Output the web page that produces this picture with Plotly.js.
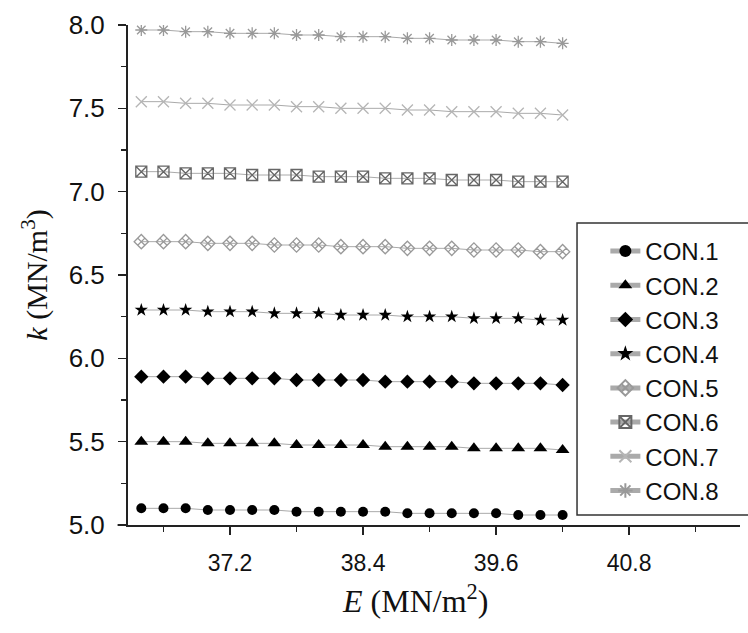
<!DOCTYPE html>
<html>
<head>
<meta charset="utf-8">
<script src="https://cdn.plot.ly/plotly-3.0.1.min.js"></script>
<style>html,body{margin:0;padding:0;background:#fff;}#chart{width:748px;height:633px;}</style>
</head>
<body>
<div id="chart"></div>
<script>
var E = [36.4, 36.6, 36.8, 37.0, 37.2, 37.4, 37.6, 37.8, 38.0, 38.2, 38.4, 38.6, 38.8, 39.0, 39.2, 39.4, 39.6, 39.8, 40.0, 40.2];

var seriesNames = ["CON.1", "CON.2", "CON.3", "CON.4", "CON.5", "CON.6", "CON.7", "CON.8"];

var con1 = [5.10, 5.10, 5.10, 5.09, 5.09, 5.09, 5.09, 5.08, 5.08, 5.08, 5.08, 5.08, 5.07, 5.07, 5.07, 5.07, 5.07, 5.06, 5.06, 5.06];
var con2 = [5.50, 5.50, 5.50, 5.49, 5.49, 5.49, 5.49, 5.48, 5.48, 5.48, 5.48, 5.47, 5.47, 5.47, 5.47, 5.46, 5.46, 5.46, 5.46, 5.45];
var con3 = [5.89, 5.89, 5.89, 5.88, 5.88, 5.88, 5.88, 5.87, 5.87, 5.87, 5.87, 5.86, 5.86, 5.86, 5.86, 5.85, 5.85, 5.85, 5.85, 5.84];
var con4 = [6.29, 6.29, 6.29, 6.28, 6.28, 6.28, 6.27, 6.27, 6.27, 6.26, 6.26, 6.26, 6.25, 6.25, 6.25, 6.24, 6.24, 6.24, 6.23, 6.23];
var con5 = [6.70, 6.70, 6.70, 6.69, 6.69, 6.69, 6.68, 6.68, 6.68, 6.67, 6.67, 6.67, 6.66, 6.66, 6.66, 6.65, 6.65, 6.65, 6.64, 6.64];
var con6 = [7.12, 7.12, 7.11, 7.11, 7.11, 7.10, 7.10, 7.10, 7.09, 7.09, 7.09, 7.08, 7.08, 7.08, 7.07, 7.07, 7.07, 7.06, 7.06, 7.06];
var con7 = [7.54, 7.54, 7.53, 7.53, 7.52, 7.52, 7.52, 7.51, 7.51, 7.50, 7.50, 7.50, 7.49, 7.49, 7.48, 7.48, 7.48, 7.47, 7.47, 7.46];
var con8 = [7.97, 7.97, 7.96, 7.96, 7.95, 7.95, 7.95, 7.94, 7.94, 7.93, 7.93, 7.93, 7.92, 7.92, 7.91, 7.91, 7.91, 7.90, 7.90, 7.89];

var yValues = [con1, con2, con3, con4, con5, con6, con7, con8];

var xTickVals = [37.2, 38.4, 39.6, 40.8];
var xTickText = ["37.2", "38.4", "39.6", "40.8"];
var xMinorVals = [36.6, 37.8, 39.0, 40.2, 41.4];
var yTickVals = [5.0, 5.5, 6.0, 6.5, 7.0, 7.5, 8.0];
var yTickText = ["5.0", "5.5", "6.0", "6.5", "7.0", "7.5", "8.0"];
var yMinorVals = [5.25, 5.75, 6.25, 6.75, 7.25, 7.75];

var symbols = ["circle", "triangle-up", "diamond", "star", "diamond-x-open", "square-x-open", "x-thin-open", "asterisk-open"];
var mColors = ["#000", "#000", "#000", "#000", "#999", "#666", "#b5b5b5", "#999"];
var mSizes = [10, 12, 11, 10, 11, 11, 11, 10];

var traces = seriesNames.map(function (name, i) {
  return {
    type: "scatter",
    mode: "lines+markers",
    name: name,
    x: E,
    y: yValues[i],
    line: {color: "#aaaaaa", width: 1},
    marker: {symbol: symbols[i], size: mSizes[i], color: mColors[i], line: {color: mColors[i], width: i >= 4 ? 1.3 : 0}}
  };
});

var layout = {
  width: 748,
  height: 633,
  margin: {l: 128, r: 8, t: 25, b: 108},
  paper_bgcolor: "#fff",
  plot_bgcolor: "#fff",
  showlegend: true,
  font: {family: "Liberation Sans, Arial, sans-serif", size: 24, color: "#111"},
  xaxis: {
    range: [36.28, 41.8],
    tickvals: xTickVals,
    ticktext: xTickText,
    ticks: "outside",
    ticklen: 8,
    tickwidth: 1.5,
    tickcolor: "#222",
    ticklabelstandoff: 8,
    minor: {tickvals: xMinorVals, ticks: "outside", ticklen: 5, tickwidth: 1.5, tickcolor: "#222"},
    showline: true,
    linecolor: "#222",
    linewidth: 2,
    showgrid: false,
    zeroline: false,
    tickfont: {size: 23, family: "Liberation Sans, Arial, sans-serif", color: "#111"}
  },
  yaxis: {
    range: [5.0, 8.0],
    tickvals: yTickVals,
    ticktext: yTickText,
    ticks: "outside",
    ticklen: 8,
    tickwidth: 1.5,
    tickcolor: "#222",
    ticklabelstandoff: 8,
    minor: {tickvals: yMinorVals, ticks: "outside", ticklen: 5, tickwidth: 1.5, tickcolor: "#222"},
    showline: true,
    linecolor: "#222",
    linewidth: 2,
    showgrid: false,
    zeroline: false,
    tickfont: {size: 26, family: "Liberation Sans, Arial, sans-serif", color: "#111"},
    title: {text: "<i>k</i> (MN/m<sup>3</sup>)", font: {family: "Liberation Serif, Times New Roman, serif", size: 30, color: "#111"}, standoff: 12}
  },
  legend: {
    x: 0.78,
    xanchor: "left",
    y: 0.592,
    yanchor: "top",
    bgcolor: "rgba(0,0,0,0)",
    borderwidth: 0,
    font: {size: 24, family: "Liberation Sans, Arial, sans-serif", color: "#111"},
    tracegroupgap: 0,
    itemsizing: "constant"
  },
  annotations: [
    {text: "<i>E</i> (MN/m<sup>2</sup>)", xref: "paper", yref: "paper", x: 0.469, y: -0.148, xanchor: "center", yanchor: "middle", showarrow: false,
     font: {family: "Liberation Serif, Times New Roman, serif", size: 32, color: "#111"}}
  ],
  shapes: [
    {type: "rect", xref: "paper", yref: "paper", x0: 0.7337, x1: 1.03, y0: 0.02, y1: 0.604, layer: "below", fillcolor: "#fff", line: {color: "#333", width: 1.5}},
    {type: "line", xref: "paper", yref: "paper", x0: -0.017, x1: 0, y0: 0, y1: 0, line: {color: "#222", width: 2}}
  ]
};

Plotly.newPlot("chart", traces, layout, {displayModeBar: false, staticPlot: true});
</script>
</body>
</html>
